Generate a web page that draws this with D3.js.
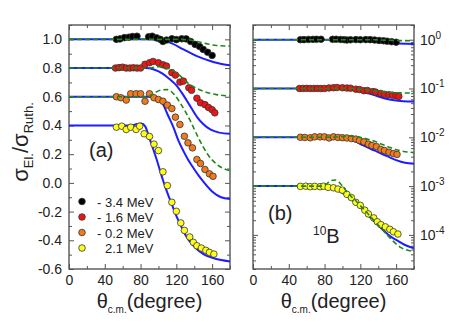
<!DOCTYPE html>
<html lang="en">
  <head>
    <meta charset="utf-8">
    <title>Elastic scattering ratio</title>
    <script src="https://d3js.org/d3.v7.min.js"></script>
    <style>
      body { margin: 0; background: #fff; font-family: Arial, "Liberation Sans", sans-serif; }
      .tick text { font-size: 14px; fill: #222; font-family: Arial, "Liberation Sans", sans-serif; }
      .domain { display: none; }
      .tick line { stroke: #555; stroke-width: 1; }
    </style>
  </head>
  <body>
    <svg id="chart" width="460" height="325"></svg>
    <script>
      // energies and their plotting offsets
      const energyLabels = ["3.4 MeV", "1.6 MeV", "0.2 MeV", "2.1 MeV"];
      const energySigns = ["-", "-", "-", ""];
      const pointColors = ["#000000", "#ee1515", "#f07a1c", "#ffff1a"];
      const linOffset = [0, -0.2, -0.4, -0.6];   // panel (a)
      const logFactor = [1, 0.1, 0.01, 0.001];   // panel (b)

      // measured ratio sigma_el / sigma_Ruth  [theta_cm, ratio]
      const dataM34 = [[53,1.0],[57,1.003],[62,1.012],[67,1.015],[71,1.02],[76,1.022],[89,1.018],[93,1.022],[98,1.01],[102,1.0],[105,0.985],[109,0.995],[115,1.004],[120,0.998],[126,1.004],[131,1.003],[136,0.985],[141,0.965],[146,0.95],[150,0.93],[155,0.91],[160,0.888]];
      const dataM16 = [[52,1.0],[56,1.003],[60,1.006],[64,1.0],[68,1.0],[72,1.002],[76,1.0],[80,1.0],[85,1.026],[90,1.037],[94,1.046],[100,1.037],[105,1.023],[109,1.014],[115,0.968],[119,0.951],[124,0.902],[128,0.909],[134,0.863],[137,0.845],[143,0.79],[147,0.758],[152,0.745],[156,0.725],[160,0.71],[163,0.688]];
      const dataM02 = [[53,1.0],[58,0.993],[64,0.977],[69,1.021],[75,1.021],[80,1.021],[85,0.969],[90,1.021],[95,0.993],[100,0.981],[105,0.969],[110,0.942],[115,0.918],[119,0.858],[124,0.807],[129,0.725],[133,0.679],[138,0.644],[143,0.563],[147,0.535],[152,0.493],[157,0.463],[161,0.446]];
      const dataP21 = [[53,0.988],[59,0.995],[64,0.972],[69,0.988],[75,0.972],[79,0.995],[84,0.942],[90,0.923],[95,0.87],[100,0.825],[105,0.677],[110,0.581],[115,0.465],[120,0.402],[125,0.321],[129,0.269],[135,0.223],[139,0.186],[143,0.162],[148,0.146],[153,0.13],[157,0.116],[162,0.104]];

      // calculations, blue solid
      const blueM34 = [[0,1],[90,1],[100,0.995],[113,0.977],[128,0.93],[143,0.883],[158,0.849],[172,0.826],[180,0.82]];
      const blueM16 = [[0,1],[85,1],[95,0.99],[105,0.96],[112,0.925],[120,0.88],[128,0.81],[135,0.74],[143,0.66],[150,0.61],[158,0.572],[168,0.55],[180,0.542]];
      const blueM02 = [[0,1],[90,1],[95,0.998],[100,0.985],[105,0.95],[110,0.88],[117,0.784],[122,0.7],[128,0.621],[133,0.563],[139,0.505],[145,0.45],[150,0.41],[160,0.34],[170,0.3],[180,0.288]];
      const blueP21 = [[0,1],[70,1],[76,1.01],[81,1.013],[85,0.995],[90,0.91],[98,0.763],[105,0.62],[110,0.53],[115,0.45],[120,0.37],[126,0.29],[131,0.228],[138,0.17],[146,0.123],[154,0.092],[161,0.077],[170,0.062],[180,0.053]];
      // calculations, green dashed
      const greenM34 = [[0,1],[125,1],[135,0.995],[146,0.981],[155,0.968],[165,0.957],[180,0.953]];
      const greenM16 = [[0,1],[90,1],[100,1.01],[110,1.0],[120,0.968],[135,0.886],[150,0.839],[165,0.815],[180,0.805]];
      const greenM02 = [[0,1],[88,1],[95,1.025],[102,1.045],[110,1.05],[117,1.02],[125,0.95],[135,0.84],[145,0.71],[155,0.6],[165,0.53],[180,0.485]];
      const greenP21 = [[0,1],[76,1],[82,1.1],[87,1.3],[92,1.33],[96,1.2],[100,1.0],[104,0.8],[108,0.66],[115,0.5],[121,0.38],[127,0.29],[136,0.19],[146,0.12],[155,0.08],[164,0.057],[172,0.049],[180,0.046]];

      const dataSets = [dataM34, dataM16, dataM02, dataP21];
      const blueSets = [blueM34, blueM16, blueM02, blueP21];
      const greenSetsA = [greenM34, greenM16, greenM02];
      const greenSetsB = [greenM34, greenM16, greenM02, greenP21];

      const xTicks = [0, 40, 80, 120, 160];
      const xMinor = [20, 60, 100, 140, 180];
      const yTicksA = [-0.6, -0.4, -0.2, 0, 0.2, 0.4, 0.6, 0.8, 1.0];
      const logExp = [0, -1, -2, -3, -4];

      const svg = d3.select("#chart");
      const plotTop = 25, plotBottom = 269;
      const xA = d3.scaleLinear().domain([0, 180]).range([69, 230]);
      const xB = d3.scaleLinear().domain([0, 180]).range([253, 414]);
      const yA = d3.scaleLinear().domain([-0.6, 1.1]).range([plotBottom, plotTop]);
      const yB = d3.scaleLog().domain([2e-5, 2]).range([plotBottom, plotTop]);

      const blue = "#1d1dff", green = "#1b8a1b";

      function clip(id, x) {
        svg.append("clipPath").attr("id", id).append("rect")
          .attr("x", x.range()[0]).attr("y", plotTop)
          .attr("width", x.range()[1] - x.range()[0]).attr("height", plotBottom - plotTop);
      }
      clip("clipA", xA); clip("clipB", xB);

      function xAxes(x) {
        svg.append("g").attr("transform", `translate(0,${plotBottom})`)
          .call(d3.axisBottom(x).tickValues(xTicks).tickSizeInner(-5).tickSizeOuter(0).tickPadding(6).tickFormat(d3.format("d")));
        svg.append("g").attr("transform", `translate(0,${plotBottom})`)
          .call(d3.axisBottom(x).tickValues(xMinor).tickSizeInner(-3).tickSizeOuter(0).tickFormat(""));
        svg.append("g").attr("transform", `translate(0,${plotTop})`)
          .call(d3.axisTop(x).tickValues(xTicks).tickSizeInner(-5).tickSizeOuter(0).tickFormat(""));
        svg.append("g").attr("transform", `translate(0,${plotTop})`)
          .call(d3.axisTop(x).tickValues(xMinor).tickSizeInner(-3).tickSizeOuter(0).tickFormat(""));
      }

      // ---- panel (a)
      xAxes(xA);
      const yMinorA = d3.range(-0.5, 1.11, 0.2).map(v => +v.toFixed(2));
      svg.append("g").attr("transform", `translate(${xA.range()[0]},0)`)
        .call(d3.axisLeft(yA).tickValues(yTicksA).tickSizeInner(-5).tickSizeOuter(0).tickPadding(7).tickFormat(d3.format(".1f")));
      svg.append("g").attr("transform", `translate(${xA.range()[0]},0)`)
        .call(d3.axisLeft(yA).tickValues(yMinorA).tickSizeInner(-3).tickSizeOuter(0).tickFormat(""));
      svg.append("g").attr("transform", `translate(${xA.range()[1]},0)`)
        .call(d3.axisRight(yA).tickValues(yTicksA).tickSizeInner(-5).tickSizeOuter(0).tickFormat(""));
      svg.append("g").attr("transform", `translate(${xA.range()[1]},0)`)
        .call(d3.axisRight(yA).tickValues(yMinorA).tickSizeInner(-3).tickSizeOuter(0).tickFormat(""));
      svg.selectAll(".tick text").filter(function() { return this.textContent.startsWith("\u2212"); })
        .text(function() { return "-" + this.textContent.slice(1); });

      // ---- panel (b)
      xAxes(xB);
      const logMinor = [];
      for (let e = -5; e <= 0; e++) for (let m = 2; m <= 9; m++) {
        const v = m * Math.pow(10, e);
        if (v >= 2e-5 && v <= 2) logMinor.push(v);
      }
      const logMajor = logExp.map(e => Math.pow(10, e));
      [[d3.axisLeft, xB.range()[0]], [d3.axisRight, xB.range()[1]]].forEach(([ax, xp]) => {
        svg.append("g").attr("transform", `translate(${xp},0)`)
          .call(ax(yB).tickValues(logMajor).tickSizeInner(-5).tickSizeOuter(0).tickFormat(""));
        svg.append("g").attr("transform", `translate(${xp},0)`)
          .call(ax(yB).tickValues(logMinor).tickSizeInner(-3).tickSizeOuter(0).tickFormat(""));
      });
      const logLab = svg.append("g").selectAll("text").data(logExp).join("text")
        .attr("x", xB.range()[1] + 6).attr("y", d => yB(Math.pow(10, d)) + 5)
        .style("font-size", "14px").style("fill", "#222");
      logLab.append("tspan").text("10");
      logLab.append("tspan").attr("dy", -6).style("font-size", "10px").text(d => d === 0 ? "0" : "-" + (-d));

      // frames
      [xA, xB].forEach(x => {
        svg.append("rect").attr("x", x.range()[0]).attr("y", plotTop)
          .attr("width", x.range()[1] - x.range()[0]).attr("height", plotBottom - plotTop)
          .attr("fill", "none").attr("stroke", "#555").attr("stroke-width", 1.4);
      });

      // ---- curves and points
      function drawPanel(x, yv, clipId, greens) {
        const g = svg.append("g").attr("clip-path", `url(#${clipId})`);
        blueSets.forEach((c, i) => {
          const line = d3.line().x(d => x(d[0])).y(d => yv(d[1], i)).curve(d3.curveMonotoneX);
          g.append("path").attr("d", line(c)).attr("fill", "none")
            .attr("stroke", blue).attr("stroke-width", 2);
        });
        dataSets.forEach((s, i) => {
          g.append("g").selectAll("circle").data(s).join("circle")
            .attr("cx", d => x(d[0])).attr("cy", d => yv(d[1], i)).attr("r", 3.3)
            .attr("fill", pointColors[i]).attr("stroke", "#333").attr("stroke-width", 0.8);
        });
        greens.forEach((c, i) => {
          const line = d3.line().x(d => x(d[0])).y(d => yv(d[1], i)).curve(d3.curveMonotoneX);
          g.append("path").attr("d", line(c)).attr("fill", "none")
            .attr("stroke", green).attr("stroke-width", 1.6).attr("stroke-dasharray", "5,3");
        });
      }
      drawPanel(xA, (r, i) => yA(r + linOffset[i]), "clipA", greenSetsA);
      drawPanel(xB, (r, i) => yB(r * logFactor[i]), "clipB", greenSetsB);

      // ---- legend
      const leg = svg.append("g").selectAll("g").data(energyLabels).join("g")
        .attr("transform", (d, i) => `translate(82,${201.5 + i * 15.5})`);
      leg.append("circle").attr("r", 3.3).attr("fill", (d, i) => pointColors[i])
        .attr("stroke", "#333").attr("stroke-width", 0.8);
      leg.append("text").attr("x", 15).attr("y", 5).style("font-size", "13px").style("fill", "#222")
        .text((d, i) => energySigns[i]);
      leg.append("text").attr("x", 23).attr("y", 5).style("font-size", "13px").style("fill", "#222")
        .text(d => d);

      // ---- annotations
      svg.append("text").attr("x", 89).attr("y", 157).style("font-size", "20px").style("fill", "#222").text("(a)");
      svg.append("text").attr("x", 268).attr("y", 220).style("font-size", "20px").style("fill", "#222").text("(b)");
      const bLab = svg.append("text").attr("x", 313).attr("y", 243).style("font-size", "20px").style("fill", "#222");
      bLab.append("tspan").attr("dy", -8).style("font-size", "12px").text("10");
      bLab.append("tspan").attr("dy", 8).text("B");

      // axis titles
      [xA, xB].forEach(x => {
        const t = svg.append("text").attr("x", (x.range()[0] + x.range()[1]) / 2).attr("y", 308)
          .attr("text-anchor", "middle").style("font-size", "20px").style("fill", "#222");
        t.append("tspan").text("\u03b8");
        t.append("tspan").attr("dy", 5).style("font-size", "10px").text("c.m.");
        t.append("tspan").attr("dy", -5).text("(degree)");
      });
      const yt = svg.append("text").attr("transform", "translate(28,142) rotate(-90)")
        .attr("text-anchor", "middle").style("font-size", "22px").style("fill", "#222");
      yt.append("tspan").text("\u03c3");
      yt.append("tspan").attr("dy", 5).style("font-size", "13px").text("El.");
      yt.append("tspan").attr("dy", -5).text("/\u03c3");
      yt.append("tspan").attr("dy", 5).style("font-size", "13px").text("Ruth.");
    </script>
  </body>
</html>
